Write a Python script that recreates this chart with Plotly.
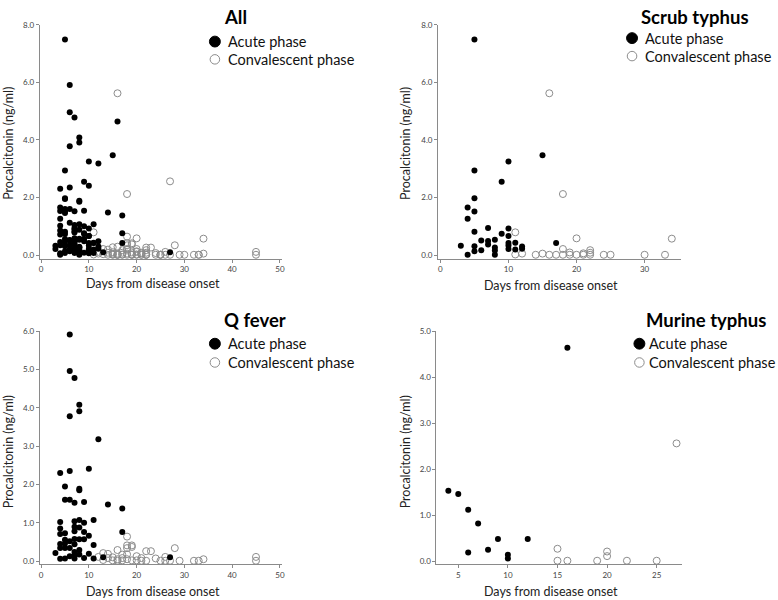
import plotly.graph_objects as go

W, H = 778, 600

# ---------------- data ----------------
scrub_acute_day = [5, 5, 5, 5, 4, 4, 5, 3, 4, 5, 5, 6, 6, 7, 7, 7, 8, 8, 8, 8, 9, 9,
                   10, 10, 10, 10, 10, 10, 11, 11, 12, 12, 15, 17]
scrub_acute_pct = [7.49, 2.94, 1.97, 1.51, 1.65, 1.26, 0.81, 0.32, 0.01, 0.31, 0.13, 0.51,
                   0.17, 0.94, 0.49, 0.37, 0.53, 0.26, 0.16, 0.01, 2.55, 0.74, 3.25, 0.92,
                   0.66, 0.42, 0.33, 0.21, 0.43, 0.19, 0.30, 0.22, 3.47, 0.42]
scrub_conv_day = [16, 18, 20, 11, 11, 12, 14, 15, 16, 17, 18, 18, 19, 19, 20, 21, 21, 22,
                  22, 22, 24, 25, 30, 33, 34]
scrub_conv_pct = [5.62, 2.12, 0.58, 0.79, 0.02, 0.05, 0.01, 0.05, 0.01, 0.01, 0.21, 0.01,
                  0.09, 0.01, 0.01, 0.01, 0.06, 0.08, 0.17, 0.01, 0.01, 0.01, 0.01, 0.01, 0.57]

q_acute_day = [3,
               4, 4, 4, 4, 4, 4, 4,
               5, 5, 5, 5, 5, 5, 5,
               6, 6, 6, 6, 6, 6, 6, 6,
               7, 7, 7, 7, 7, 7, 7, 7, 7, 7,
               8, 8, 8, 8, 8, 8, 8, 8, 8,
               9, 9, 9, 9, 9,
               10, 10, 10,
               11, 11, 11,
               12, 13, 14, 17, 17, 27]
q_acute_pct = [0.21,
               2.30, 1.02, 0.85, 0.71, 0.45, 0.34, 0.06,
               1.95, 1.60, 0.73, 0.56, 0.46, 0.34, 0.07,
               5.91, 4.96, 3.78, 2.35, 1.60, 0.52, 0.34, 0.13,
               4.78, 1.52, 1.04, 0.90, 0.78, 0.58, 0.44, 0.24, 0.15, 0.07,
               4.08, 3.91, 1.89, 1.85, 1.07, 0.88, 0.57, 0.29, 0.17,
               1.54, 1.00, 0.76, 0.57, 0.08,
               2.41, 0.66, 0.19,
               1.07, 0.42, 0.07,
               3.18, 0.10, 1.48, 1.37, 0.76, 0.10]
q_conv_day = [12, 13, 13, 14, 14, 15, 15, 16, 16, 16, 17, 17, 17, 18, 18, 18, 18, 18,
              19, 19, 19, 20, 20, 21, 21, 22, 22, 23, 24, 25, 26, 26, 27, 28, 29, 32,
              33, 34, 45, 45]
q_conv_pct = [0.11, 0.21, 0.03, 0.19, 0.08, 0.10, 0.02, 0.29, 0.05, 0.01, 0.17, 0.08,
              0.02, 0.64, 0.41, 0.34, 0.18, 0.05, 0.41, 0.37, 0.02, 0.13, 0.02, 0.08,
              0.01, 0.26, 0.01, 0.26, 0.07, 0.01, 0.11, 0.01, 0.01, 0.34, 0.01, 0.01,
              0.01, 0.05, 0.11, 0.01]

murine_acute_day = [4, 5, 6, 6, 7, 8, 9, 10, 10, 12, 16]
murine_acute_pct = [1.53, 1.46, 1.12, 0.19, 0.82, 0.25, 0.48, 0.14, 0.06, 0.48, 4.64]
murine_conv_day = [15, 15, 16, 19, 20, 20, 22, 25, 27]
murine_conv_pct = [0.27, 0.01, 0.01, 0.01, 0.21, 0.11, 0.01, 0.01, 2.56]

all_acute_day = scrub_acute_day + q_acute_day + murine_acute_day
all_acute_pct = scrub_acute_pct + q_acute_pct + murine_acute_pct
all_conv_day = scrub_conv_day + q_conv_day + murine_conv_day
all_conv_pct = scrub_conv_pct + q_conv_pct + murine_conv_pct

panel_titles = ["All", "Scrub typhus", "Q fever", "Murine typhus"]
legend_labels = ["Acute phase", "Convalescent phase"]
x_title = "Days from disease onset"
y_title = "Procalcitonin (ng/ml)"

x_ticks = [[0, 10, 20, 30, 40, 50], [0, 10, 20, 30], [0, 10, 20, 30, 40, 50], [5, 10, 15, 20, 25]]
y_ticks = [[0, 2, 4, 6, 8], [0, 2, 4, 6, 8], [0, 1, 2, 3, 4, 5, 6], [0, 1, 2, 3, 4, 5]]

panels = [
    (all_acute_day, all_acute_pct, all_conv_day, all_conv_pct),
    (scrub_acute_day, scrub_acute_pct, scrub_conv_day, scrub_conv_pct),
    (q_acute_day, q_acute_pct, q_conv_day, q_conv_pct),
    (murine_acute_day, murine_acute_pct, murine_conv_day, murine_conv_pct),
]

# ---------------- layout geometry (pixels) ----------------
boxes = [(39, 282, 20, 256.5), (439.3, 683.3, 20, 256.5),
         (39, 282, 330, 566), (437.7, 685, 330, 566)]
x_ranges = [[-0.27, 50.35], [-0.35, 35.32], [-0.27, 50.35], [2.8, 27.6]]
y_ranges = [[-0.12, 8.0], [-0.12, 8.0], [-0.085, 6.0], [-0.07, 5.0]]
leg = [(215, 37, 55, 226), (634.3, 33.5, 51.7, 645.5), (215, 342.7, 361.7, 226), (641.7, 342.7, 361.7, 649.5)]
title_pos = [(222, 12), (641, 12), (222, 319), (646.5, 319)]
xtitle_pos = [(152.5, 282), (552.5, 284), (152.5, 593), (552.5, 593)]
ytitle_pos = [(7.5, 140), (406.7, 140), (7.5, 452), (406.7, 452)]

FONT = "Lato"
AX = "#8a8a8a"

def px(x):
    return x / W

def py(y):
    return 1 - y / H

fig = go.Figure()
layout = dict(width=W, height=H, margin=dict(l=0, r=0, t=0, b=0),
              paper_bgcolor="white", plot_bgcolor="white", showlegend=False,
              font=dict(family=FONT, color="#222"))
annotations = []
shapes = []

for i, (ad, ap, cd, cp) in enumerate(panels):
    n = "" if i == 0 else str(i + 1)
    xa, ya = "x" + n, "y" + n
    fig.add_trace(go.Scatter(x=cd, y=cp, xaxis=xa, yaxis=ya, mode="markers",
                             name=legend_labels[1],
                             marker=dict(symbol="circle-open", size=7, color="#8c8c8c",
                                         line=dict(width=1, color="#8c8c8c")),
                             cliponaxis=False))
    fig.add_trace(go.Scatter(x=ad, y=ap, xaxis=xa, yaxis=ya, mode="markers",
                             name=legend_labels[0],
                             marker=dict(symbol="circle", size=6, color="black"),
                             cliponaxis=False))
    l, r, t, b = boxes[i]
    axcommon = dict(showgrid=False, zeroline=False, showline=True, linecolor=AX,
                    linewidth=1, ticks="outside", ticklen=3, tickcolor=AX, tickwidth=1,
                    tickfont=dict(size=8, color="#444", family=FONT))
    layout["xaxis" + n] = dict(domain=[px(l), px(r)], range=x_ranges[i], anchor=ya,
                               tickmode="array", tickvals=x_ticks[i],
                               ticktext=[str(v) for v in x_ticks[i]], **axcommon)
    layout["yaxis" + n] = dict(domain=[py(b), py(t)], range=y_ranges[i], anchor=xa,
                               tickmode="array", tickvals=y_ticks[i],
                               ticktext=["%.1f" % v for v in y_ticks[i]], **axcommon)

    mx, ay, cy, tx = leg[i]
    r1 = 5.5
    shapes.append(dict(type="circle", xref="paper", yref="paper",
                       x0=px(mx - r1), x1=px(mx + r1), y0=py(ay + r1), y1=py(ay - r1),
                       fillcolor="black", line=dict(color="black", width=1)))
    r2 = 4.8
    shapes.append(dict(type="circle", xref="paper", yref="paper",
                       x0=px(mx - r2), x1=px(mx + r2), y0=py(cy + r2), y1=py(cy - r2),
                       fillcolor="white", line=dict(color="#8c8c8c", width=1)))
    for lab, yy0 in ((legend_labels[0], ay), (legend_labels[1], cy)):
        annotations.append(dict(xref="paper", yref="paper", x=px(tx), y=py(yy0), xanchor="left",
                                yanchor="middle", showarrow=False, text=lab,
                                font=dict(size=14.5, family=FONT, color="#111")))
    tx0, ty0 = title_pos[i]
    annotations.append(dict(xref="paper", yref="paper", x=px(tx0), y=py(ty0), xanchor="left",
                            yanchor="middle", showarrow=False, text="<b>%s</b>" % panel_titles[i],
                            font=dict(size=18.5, family=FONT, color="#000")))
    xx, xy = xtitle_pos[i]
    annotations.append(dict(xref="paper", yref="paper", x=px(xx), y=py(xy), xanchor="center",
                            yanchor="middle", showarrow=False, text=x_title,
                            font=dict(size=12.5, family=FONT, color="#222")))
    yx, yy = ytitle_pos[i]
    annotations.append(dict(xref="paper", yref="paper", x=px(yx), y=py(yy), xanchor="center",
                            yanchor="middle", showarrow=False, text=y_title, textangle=-90,
                            font=dict(size=12.5, family=FONT, color="#222")))

layout["annotations"] = annotations
layout["shapes"] = shapes
fig.update_layout(**layout)
fig.write_html("out.html", config={"displayModeBar": False},
               post_script="document.body.style.margin='0';document.body.style.overflow='hidden';")
